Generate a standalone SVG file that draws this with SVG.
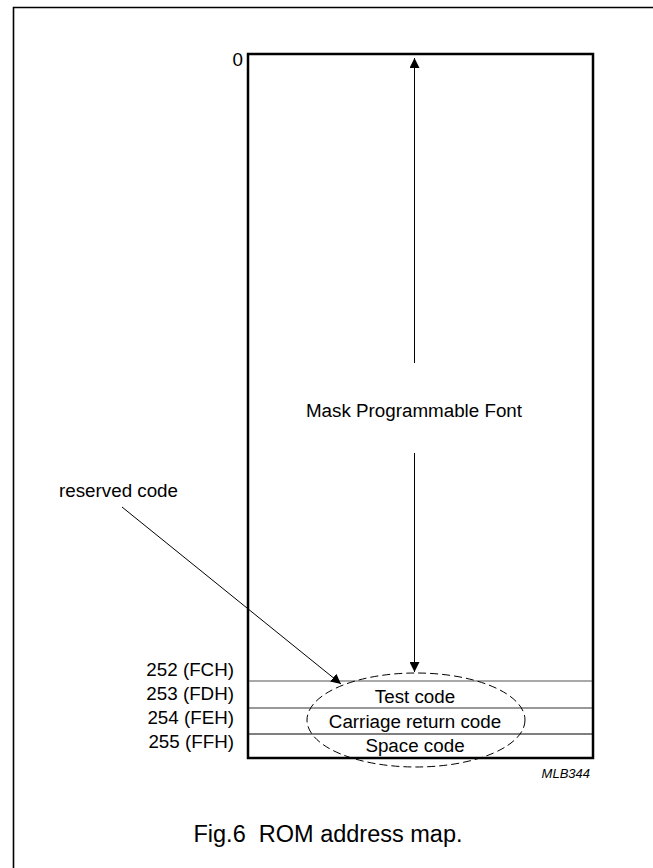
<svg xmlns="http://www.w3.org/2000/svg" width="653" height="868" viewBox="0 0 653 868">
<style>
text{font-family:"Liberation Sans",Arial,sans-serif;fill:#000}
.lbl{font-size:18.8px}
.r{text-anchor:end}
.c{text-anchor:middle}
.ln{stroke:#000;stroke-width:1;fill:none}
</style>
<defs>
<marker id="ah" viewBox="0 0 10 10" refX="10" refY="5" markerWidth="10" markerHeight="10" markerUnits="userSpaceOnUse" orient="auto">
<path d="M0,0 L10,5 L0,10 Z" fill="#000"/>
</marker>
</defs>
<rect width="653" height="868" fill="#fff"/>
<g id="frame">
<path d="M13.5,868 V7.5 H653" fill="none" stroke="#000" stroke-width="1.6"/>
</g>
<g id="rom">
<rect x="248" y="54" width="345" height="704" fill="none" stroke="#000" stroke-width="2.5"/>
<line x1="249" y1="681" x2="592" y2="681" stroke="#555" stroke-width="1.2"/>
<line x1="249" y1="708" x2="592" y2="708" stroke="#333" stroke-width="1.2"/>
<line x1="249" y1="734" x2="592" y2="734" stroke="#000" stroke-width="1.2"/>
<text class="lbl c" x="414" y="417">Mask Programmable Font</text>
<text class="lbl c" x="415" y="703">Test code</text>
<text class="lbl c" x="415" y="728">Carriage return code</text>
<text class="lbl c" x="415" y="752">Space code</text>
</g>
<g id="addresses">
<text class="lbl r" x="243" y="66">0</text>
<text class="lbl r" x="234" y="676">252 (FCH)</text>
<text class="lbl r" x="234" y="700">253 (FDH)</text>
<text class="lbl r" x="234" y="724">254 (FEH)</text>
<text class="lbl r" x="234" y="748">255 (FFH)</text>
</g>
<g id="reserved">
<text class="lbl" x="59" y="497">reserved code</text>
<ellipse cx="416" cy="720" rx="109" ry="47" fill="none" stroke="#000" stroke-width="1" stroke-dasharray="8,4"/>
</g>
<g id="connectors">
<line class="ln" x1="122" y1="507" x2="341" y2="684" marker-end="url(#ah)"/>
<line class="ln" x1="414.5" y1="363" x2="414.5" y2="58" marker-end="url(#ah)"/>
<line class="ln" x1="414.5" y1="453" x2="414.5" y2="672" marker-end="url(#ah)"/>
</g>
<text x="590" y="778" text-anchor="end" font-size="13" font-style="italic">MLB344</text>
<text x="328" y="842" text-anchor="middle" font-size="23.5" xml:space="preserve" style="white-space:pre">Fig.6  ROM address map.</text>
</svg>
